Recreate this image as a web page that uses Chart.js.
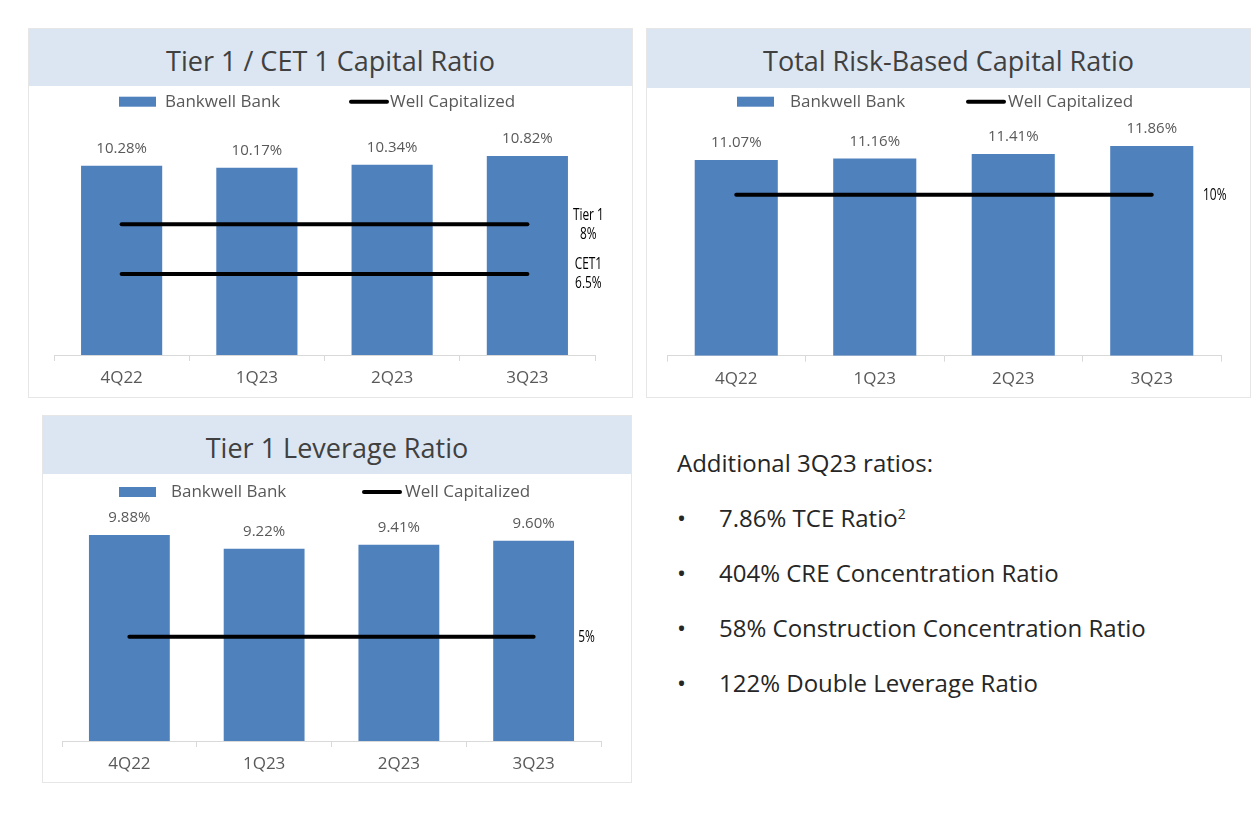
<!DOCTYPE html>
<html>
<head>
<meta charset="utf-8">
<script src="https://cdn.jsdelivr.net/npm/chart.js"></script>
<style>
  body { margin:0; background:#fff; width:1256px; height:814px; position:relative; overflow:hidden; font-family:'Open Sans', sans-serif; }
  .panel { position:absolute; box-sizing:border-box; border:1px solid #e6e6e6; background:#fff; }
  .band { position:absolute; left:0; top:0; right:0; height:57px; background:#dce6f2; color:#404040;
          font-size:27px; text-align:center; line-height:63px; }
  .panel canvas { position:absolute; left:-1px; }
  #notes { position:absolute; left:677px; top:446px; color:#262626; font-size:24px; }
  #notes .head { height:34px; line-height:34px; }
  #notes ul { list-style:none; margin:0; padding:0; }
  #notes li { position:absolute; left:0; line-height:34px; white-space:nowrap; }
  #notes li span.b { position:absolute; left:0; }
  #notes li span.t { position:absolute; left:42px; }
  sup { font-size:14px; vertical-align:top; position:relative; top:-4px; }
</style>
</head>
<body>

<div class="panel" style="left:28px;top:28px;width:605px;height:370px">
  <div class="band">Tier 1 / CET 1 Capital Ratio</div>
  <canvas id="c1" width="605" height="312" style="top:57px"></canvas>
</div>
<div class="panel" style="left:646px;top:28px;width:605px;height:370px">
  <div class="band" style="height:59px">Total Risk-Based Capital Ratio</div>
  <canvas id="c2" width="604" height="312" style="top:57px"></canvas>
</div>
<div class="panel" style="left:42px;top:415px;width:590px;height:368px">
  <div class="band" style="height:58px">Tier 1 Leverage Ratio</div>
  <canvas id="c3" width="590" height="310" style="top:57px"></canvas>
</div>

<div id="notes">
  <div class="head">Additional 3Q23 ratios:</div>
  <ul id="noteList"></ul>
</div>

<script>
// chart data
const quarters = ['4Q22', '1Q23', '2Q23', '3Q23']
const tier1Ratio = [10.28, 10.17, 10.34, 10.82]
const totalRiskRatio = [11.07, 11.16, 11.41, 11.86]
const leverageRatio = [9.88, 9.22, 9.41, 9.60]
// well capitalized thresholds
const tier1Min = [8, 8, 8, 8]
const cet1Min = [6.5, 6.5, 6.5, 6.5]
const totalRiskMin = [10, 10, 10, 10]
const leverageMin = [5, 5, 5, 5]
const additionalRatios = ['7.86% TCE Ratio', '404% CRE Concentration Ratio', '58% Construction Concentration Ratio', '122% Double Leverage Ratio']
const additionalNotes = ['2', '', '', '']

const FONT = "'Open Sans', sans-serif"
const BAR_BLUE = '#4f81bd'
const GREY_TEXT = '#595959'

// value labels on top of the bars
const barLabels = {
    id: 'barLabels',
    afterDatasetsDraw(chart) {
        const ctx = chart.ctx
        const meta = chart.getDatasetMeta(0)
        ctx.save()
        ctx.font = `15px ${FONT}`
        ctx.fillStyle = GREY_TEXT
        ctx.textAlign = 'center'
        ctx.textBaseline = 'middle'
        meta.data.forEach((bar, i) => {
            ctx.fillText(chart.data.datasets[0].data[i].toFixed(2) + '%', bar.x, bar.y - 17)
        })
        ctx.restore()
    }
}

// text next to the end of each threshold line
const lineTags = {
    id: 'lineTags',
    afterDatasetsDraw(chart, args, opts) {
        const ctx = chart.ctx
        ctx.save()
        ctx.fillStyle = '#000'
        ctx.textAlign = 'center'
        ctx.textBaseline = 'middle'
        ctx.font = `500 17px ${FONT}`
        chart.data.datasets.forEach((ds, di) => {
            if (!ds.tag) return
            const pts = chart.getDatasetMeta(di).data
            const last = pts[pts.length - 1]
            const x = last.x + opts.offset
            const top = last.y - (ds.tag.length - 1) * 19 / 2
            ds.tag.forEach((t, k) => {
                ctx.save()
                ctx.translate(x, top + k * 19)
                ctx.scale(0.7, 1)
                ctx.fillText(t, 0, 0)
                ctx.restore()
            })
        })
        ctx.restore()
    }
}

// legend drawn at the spots used on the slide
const slideLegend = {
    id: 'slideLegend',
    afterDraw(chart, args, opts) {
        const ctx = chart.ctx
        const y = opts.y
        ctx.save()
        ctx.fillStyle = BAR_BLUE
        ctx.fillRect(opts.boxX, y - 5, 37, 10)
        ctx.strokeStyle = '#000'
        ctx.lineWidth = 4
        ctx.lineCap = 'round'
        ctx.beginPath()
        ctx.moveTo(opts.lineX + 2, y)
        ctx.lineTo(opts.lineX + 38, y)
        ctx.stroke()
        ctx.font = `17px ${FONT}`
        ctx.fillStyle = GREY_TEXT
        ctx.textBaseline = 'middle'
        ctx.fillText('Bankwell Bank', opts.boxTextX, y)
        ctx.fillText('Well Capitalized', opts.lineTextX, y)
        ctx.restore()
    }
}

function ratioChart(id, values, lines, cfg) {
    const datasets = [{
        type: 'bar',
        data: values,
        backgroundColor: BAR_BLUE,
        barPercentage: 0.6,
        categoryPercentage: 1,
        yAxisID: 'y',
        order: 2
    }]
    lines.forEach(l => {
        datasets.push({
            type: 'line',
            data: l.data,
            tag: l.tag,
            borderColor: '#000',
            borderWidth: 4,
            borderCapStyle: 'round',
            pointRadius: 0,
            yAxisID: 'y2',
            order: 1
        })
    })
    return new Chart(id, {
        data: { labels: quarters, datasets: datasets },
        options: {
            responsive: false,
            animation: false,
            layout: { padding: cfg.padding },
            plugins: {
                legend: { display: false },
                tooltip: { enabled: false },
                lineTags: { offset: cfg.tagOffset },
                slideLegend: cfg.legend
            },
            scales: {
                x: {
                    offset: true,
                    grid: { offset: true, drawOnChartArea: false, tickLength: 6, color: '#d9d9d9' },
                    border: { color: '#d9d9d9' },
                    ticks: { color: GREY_TEXT, padding: 7, font: { family: FONT, size: 17 } }
                },
                y: { display: false, min: 0, max: cfg.yMax },
                y2: { display: false, min: cfg.y2[0], max: cfg.y2[1] }
            }
        },
        plugins: [barLabels, lineTags, slideLegend]
    })
}

document.addEventListener('DOMContentLoaded', () => {
    ratioChart('c1', tier1Ratio, [
        { data: tier1Min, tag: ['Tier 1', '8%'] },
        { data: cet1Min, tag: ['CET1', '6.5%'] }
    ], {
        padding: { top: 39, left: 26, right: 38, bottom: 2.6 },
        yMax: 12.5, y2: [4.05, 11.0], tagOffset: 61,
        legend: { y: 15.7, boxX: 91, boxTextX: 137, lineX: 321, lineTextX: 362 }
    })

    ratioChart('c2', totalRiskRatio, [
        { data: totalRiskMin, tag: ['10%'] }
    ], {
        padding: { top: 39, left: 21, right: 29, bottom: 1.9 },
        yMax: 13.05, y2: [0, 14.33], tagOffset: 63,
        legend: { y: 15.7, boxX: 91, boxTextX: 144, lineX: 320, lineTextX: 362 }
    })

    ratioChart('c3', leverageRatio, [
        { data: leverageMin, tag: ['5%'] }
    ], {
        padding: { top: 39, left: 20, right: 31, bottom: 1.6 },
        yMax: 10.98, y2: [0, 10.98], tagOffset: 53,
        legend: { y: 19, boxX: 77, boxTextX: 129, lineX: 320, lineTextX: 363 }
    })

    const list = document.querySelector('#noteList')
    additionalRatios.forEach((txt, i) => {
        const li = document.createElement('li')
        li.style.top = (55 + i * 55) + 'px'
        li.innerHTML = `<span class="b">•</span><span class="t">${txt}${additionalNotes[i] ? '<sup>' + additionalNotes[i] + '</sup>' : ''}</span>`
        list.appendChild(li)
    })
})
</script>
</body>
</html>
